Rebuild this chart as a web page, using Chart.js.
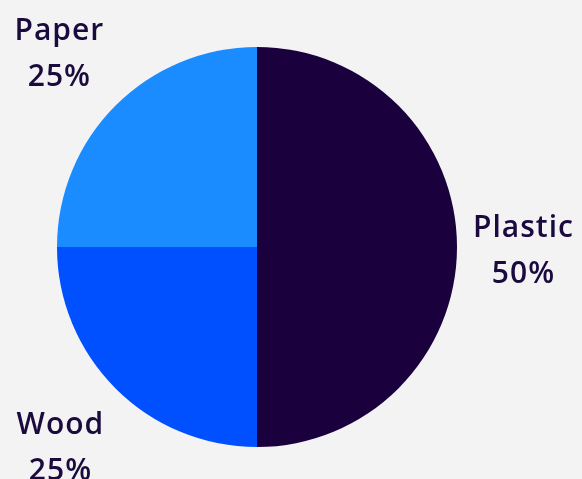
<!DOCTYPE html>
<html><head><meta charset="utf-8">
<script src="https://cdn.jsdelivr.net/npm/chart.js@4"></script>
<style>html,body{margin:0;padding:0;background:#f3f3f3;}#wrap{width:582px;height:479px;}</style>
</head><body><div id="wrap"><canvas id="c"></canvas></div>
<script>
const categories = ["Plastic", "Wood", "Paper"];
const values = [50, 25, 25];
const percentLabels = ["50%", "25%", "25%"];
const colors = ["#1a003d", "#0050ff", "#1a8cff"];

const outsideLabels = {
  id: 'outsideLabels',
  afterDatasetsDraw(chart) {
    const ctx = chart.ctx;
    const meta = chart.getDatasetMeta(0);
    ctx.save();
    ctx.font = '600 30px "Open Sans", sans-serif';
    try { ctx.letterSpacing = '1px'; } catch (e) {}
    ctx.fillStyle = '#1a0a3d';
    ctx.textAlign = 'center';
    ctx.textBaseline = 'alphabetic';
    const lineGap = 46;
    meta.data.forEach((arc, i) => {
      const mid = (arc.startAngle + arc.endAngle) / 2;
      const cs = Math.cos(mid), sn = Math.sin(mid);
      const r = arc.outerRadius + 16;
      const w = Math.max(ctx.measureText(categories[i]).width, ctx.measureText(percentLabels[i]).width);
      const halfW = w / 2, halfH = 44;
      let x = arc.x + cs * r + (Math.abs(cs) > 0.1 ? Math.sign(cs) * halfW : 0);
      let y = arc.y + sn * r + (Math.abs(sn) > 0.1 ? Math.sign(sn) * halfH : 0);
      ctx.fillText(categories[i], x, y - 10);
      ctx.fillText(percentLabels[i], x, y - 10 + lineGap);
    });
    ctx.restore();
  }
};

new Chart(document.getElementById('c'), {
  type: 'pie',
  data: {
    labels: categories,
    datasets: [{ data: values, backgroundColor: colors, borderWidth: 0, hoverOffset: 0 }]
  },
  options: {
    responsive: true,
    maintainAspectRatio: false,
    animation: false,
    layout: { padding: { left: 57, right: 125, top: 47, bottom: 32 } },
    plugins: { legend: { display: false }, tooltip: { enabled: false } }
  },
  plugins: [outsideLabels]
});
</script></body></html>
